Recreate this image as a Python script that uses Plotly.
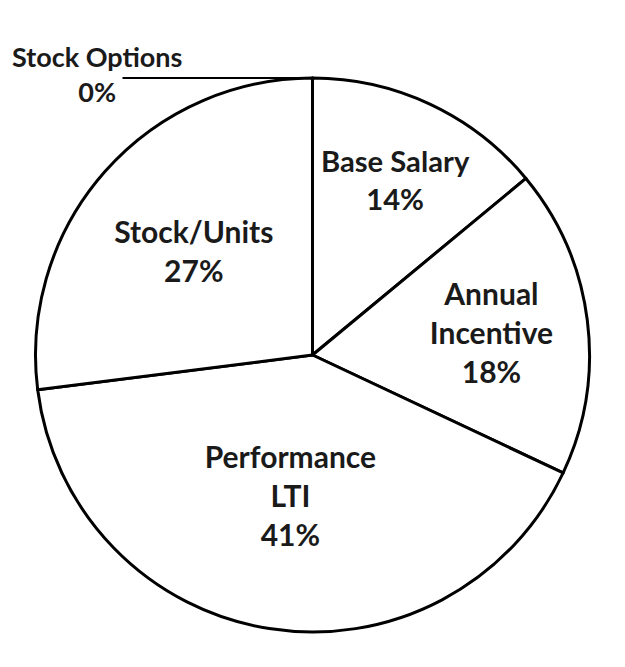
import plotly.graph_objects as go

labels = ["Base Salary", "Annual<br>Incentive", "Performance<br>LTI", "Stock/Units", "Stock Options"]
values = [14, 18, 41, 27, 0]
other_label = "Stock Options<br>0%"

W, H = 625, 667
OFF = 8  # page body margin
dom_x = [(35 - OFF) / W, (590 - OFF) / W]
dom_y = [1 - (632 - OFF) / H, 1 - (78 - OFF) / H]

fig = go.Figure(go.Pie(
    labels=labels,
    values=values,
    sort=False,
    direction="clockwise",
    rotation=0,
    marker=dict(colors=["white"] * 5, line=dict(color="black", width=3)),
    texttemplate=["%{label}<br>%{percent:.0%}"] * 4 + [""],
    textposition="inside",
    insidetextorientation="horizontal",
    textfont=dict(family="Lato", size=30, color="#1a1a1a", weight="bold"),
    hoverinfo="label+percent",
    domain=dict(x=dom_x, y=dom_y),
    showlegend=False,
))

top_x = (dom_x[0] + dom_x[1]) / 2
top_y = dom_y[1]
fig.add_shape(type="line", xref="paper", yref="paper",
              x0=top_x - 190 / W, x1=top_x, y0=top_y, y1=top_y,
              line=dict(color="black", width=2))
fig.add_annotation(text="<b>" + other_label + "</b>", xref="paper", yref="paper",
                   x=top_x - 216 / W, y=top_y + 4 / H, showarrow=False,
                   xanchor="center", yanchor="middle", align="center",
                   font=dict(family="Lato", size=27, color="#1a1a1a"))

fig.update_layout(width=W, height=H, margin=dict(l=0, r=0, t=0, b=0),
                  paper_bgcolor="white", plot_bgcolor="white")
fig.write_html("out.html")
